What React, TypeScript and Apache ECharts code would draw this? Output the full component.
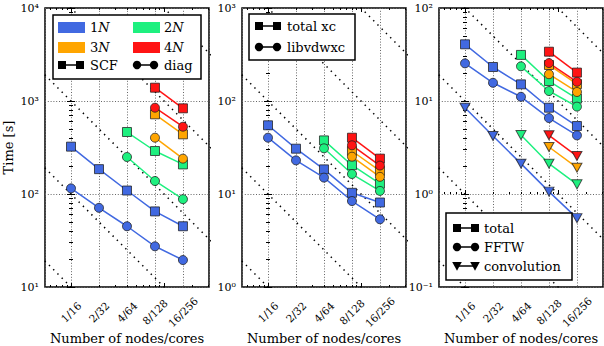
import React, { useEffect, useRef } from 'react';
import * as echarts from 'echarts';

// ---------- data ----------
const categories = ['1/16', '2/32', '4/64', '8/128', '16/256'];
const nodes = [1, 2, 4, 8, 16];
const sizeNames = ['1', '2', '3', '4'];
const sizeColors = ['#4169e1', '#1ef07f', '#ffa500', '#ff1414'];

// panel 1: SCF / diag time [s]
const scf1N = [323, 185, 109, 65, 45];
const scf2N = [null, null, 464, 290, 208];
const scf3N = [null, null, null, 719, 438];
const scf4N = [null, null, null, 1390, 834];
const diag1N = [115, 71, 45, 27.4, 19.5];
const diag2N = [null, null, 250, 138, 88];
const diag3N = [null, null, null, 403, 240];
const diag4N = [null, null, null, 847, 529];

// panel 2: total xc / libvdwxc
const xc1N = [54.8, 30.7, 18.4, 10.3, 8.1];
const xc2N = [null, null, 37.7, 20.4, 12.9];
const xc3N = [null, null, null, 29.0, 17.7];
const xc4N = [null, null, null, 40.3, 24.0];
const vdw1N = [40.3, 23.0, 15.0, 8.4, 5.35];
const vdw2N = [null, null, 31.0, 16.4, 10.8];
const vdw3N = [null, null, null, 25.2, 15.3];
const vdw4N = [null, null, null, 33.4, 20.2];

// panel 3: total / FFTW / convolution
const total1N = [40.7, 23.2, 15.1, 8.47, 5.38];
const total2N = [null, null, 31.3, 16.4, 10.6];
const total3N = [null, null, null, 24.4, 15.2];
const total4N = [null, null, null, 33.9, 20.2];
const fftw1N = [25.4, 15.7, 11.1, 6.56, 4.27];
const fftw2N = [null, null, 23.6, 12.8, 8.7];
const fftw3N = [null, null, null, 19.4, 12.5];
const fftw4N = [null, null, null, 25.6, 16.1];
const conv1N = [8.47, 4.2, 2.12, 1.06, 0.55];
const conv2N = [null, null, 4.3, 2.12, 1.27];
const conv3N = [null, null, null, 3.2, 1.92];
const conv4N = [null, null, null, 4.28, 2.56];

// ideal-scaling reference lines T = C / nodes
const idealC1 = [10, 100, 1000, 10000, 100000];
const idealC2 = [1, 10, 100, 1000, 10000];
const idealC3 = [0.1, 1, 10, 100, 1000];

// y ranges
const yRange1 = [10, 10000];
const yRange2 = [1, 1000];
const yRange3 = [0.1, 100];

// ---------- layout / style ----------
const FONT = "'DejaVu Serif', 'Liberation Serif', serif";
const GRID_TOP = 8;
const GRID_W = 164;
const GRID_H = 279;
const X_MIN = 0.525;
const X_MAX = 30.5;
const GRID_LINE = { color: '#666', width: 1, type: [1, 1.8] as any };

type Metric = { label: string; symbol: string; values: (number | null)[][] };
type Panel = { left: number; yRange: number[]; idealC: number[]; metrics: Metric[] };

const panels: Panel[] = [
  {
    left: 45, yRange: yRange1, idealC: idealC1,
    metrics: [
      { label: 'SCF', symbol: 'rect', values: [scf1N, scf2N, scf3N, scf4N] },
      { label: 'diag', symbol: 'circle', values: [diag1N, diag2N, diag3N, diag4N] },
    ],
  },
  {
    left: 242, yRange: yRange2, idealC: idealC2,
    metrics: [
      { label: 'total xc', symbol: 'rect', values: [xc1N, xc2N, xc3N, xc4N] },
      { label: 'libvdwxc', symbol: 'circle', values: [vdw1N, vdw2N, vdw3N, vdw4N] },
    ],
  },
  {
    left: 439, yRange: yRange3, idealC: idealC3,
    metrics: [
      { label: 'total', symbol: 'rect', values: [total1N, total2N, total3N, total4N] },
      { label: 'FFTW', symbol: 'circle', values: [fftw1N, fftw2N, fftw3N, fftw4N] },
      { label: 'convolution', symbol: 'triangle', values: [conv1N, conv2N, conv3N, conv4N] },
    ],
  },
];

const SUP: Record<string, string> = { '-': '⁻', '0': '⁰', '1': '¹', '2': '²', '3': '³', '4': '⁴', '5': '⁵' };
const toSup = (n: number) => String(n).split('').map((c) => SUP[c] || c).join('');

const pairs = (vals: (number | null)[]) =>
  nodes.map((n, i) => (vals[i] == null ? null : [n, vals[i]])).filter((p) => p !== null);

const auxAxis = (gridIndex: number, position: string, min: number, max: number, values: number[], length: number) => ({
  type: 'value', gridIndex, position, min, max, silent: true,
  axisLine: { show: false },
  axisLabel: { show: false },
  splitLine: { show: false },
  axisTick: { show: true, inside: true, length, customValues: values, lineStyle: { color: '#000', width: 1 } },
});

function legendGraphics(): any[] {
  const els: any[] = [];
  const box = (x: number, y: number, w: number, h: number) =>
    els.push({ type: 'rect', z: 100, shape: { x, y, width: w, height: h }, style: { fill: '#fff', stroke: '#000', lineWidth: 1.5 } });
  const txt = (x: number, y: number, text: string, rich?: boolean) =>
    els.push({
      type: 'text', z: 101, x, y,
      style: {
        text, fontSize: 13, fontFamily: FONT, fill: '#000', align: 'left', verticalAlign: 'middle',
        rich: rich ? { i: { fontStyle: 'italic', fontSize: 13, fontFamily: FONT, fill: '#000' } } : undefined,
      },
    });
  const mark = (kind: string, cx: number, cy: number) => {
    if (kind === 'rect') els.push({ type: 'rect', z: 102, shape: { x: cx - 4, y: cy - 4, width: 8, height: 8 }, style: { fill: '#000' } });
    else if (kind === 'circle') els.push({ type: 'circle', z: 102, shape: { cx, cy, r: 4.2 }, style: { fill: '#000' } });
    else els.push({ type: 'polygon', z: 102, shape: { points: [[cx - 4.8, cy - 4], [cx + 4.8, cy - 4], [cx, cy + 4.8]] }, style: { fill: '#000' } });
  };
  const entry = (kind: string, x1: number, x2: number, y: number, tx: number, label: string) => {
    els.push({ type: 'line', z: 101, shape: { x1, y1: y, x2, y2: y }, style: { stroke: '#000', lineWidth: 1.5 } });
    mark(kind, x1, y);
    mark(kind, x2, y);
    txt(tx, y, label);
  };
  const patch = (x: number, y: number, color: string, size: string, tx: number) => {
    els.push({ type: 'rect', z: 101, shape: { x, y, width: 27, height: 11 }, style: { fill: color } });
    txt(tx, y + 5.5, size + '{i|N}', true);
  };

  box(53, 15, 148, 64);
  patch(58, 22, sizeColors[0], sizeNames[0], 90);
  patch(133, 22, sizeColors[1], sizeNames[1], 164);
  patch(58, 42, sizeColors[2], sizeNames[2], 90);
  patch(133, 42, sizeColors[3], sizeNames[3], 164);
  entry(panels[0].metrics[0].symbol, 62, 80, 65, 90, panels[0].metrics[0].label);
  entry(panels[0].metrics[1].symbol, 137, 154, 65, 164, panels[0].metrics[1].label);

  box(249, 14, 106, 46);
  entry(panels[1].metrics[0].symbol, 259, 277, 26, 287, panels[1].metrics[0].label);
  entry(panels[1].metrics[1].symbol, 259, 277, 47, 287, panels[1].metrics[1].label);

  box(446, 213, 126, 67);
  entry(panels[2].metrics[0].symbol, 457, 475, 228, 484, panels[2].metrics[0].label);
  entry(panels[2].metrics[1].symbol, 457, 475, 247, 484, panels[2].metrics[1].label);
  entry(panels[2].metrics[2].symbol, 457, 475, 266, 484, panels[2].metrics[2].label);
  return els;
}

function buildOption() {
  const grid: any[] = [];
  const xAxis: any[] = [];
  const yAxis: any[] = [];
  const series: any[] = [];

  const lx0 = Math.log10(X_MIN);
  const lx1 = Math.log10(X_MAX);
  const xMinorVals = [0.6, 0.7, 0.8, 0.9, 2, 3, 4, 5, 6, 7, 8, 9, 20, 30].map(Math.log10);
  const xMajorVals = [1, 10].map(Math.log10);

  panels.forEach((p, i) => {
    grid.push({
      left: p.left, top: GRID_TOP, width: GRID_W, height: GRID_H,
      show: true, borderColor: '#000', borderWidth: 1.5, backgroundColor: 'transparent',
      outerBoundsMode: 'none',
    });

    xAxis.push({
      type: 'log', logBase: 2, gridIndex: i, min: X_MIN, max: X_MAX, position: 'bottom',
      axisLine: { show: false },
      axisTick: { show: false },
      axisLabel: {
        rotate: 45, align: 'center', verticalAlign: 'middle', margin: 25,
        fontSize: 10.5, fontFamily: FONT, color: '#000',
        formatter: (v: number) => {
          const k = nodes.findIndex((n) => Math.abs(n - v) < 1e-6);
          return k >= 0 ? categories[k] : '';
        },
      },
      splitLine: { show: true, lineStyle: GRID_LINE },
      name: 'Number of nodes/cores', nameLocation: 'middle', nameGap: 45, nameMoveOverlap: false,
      nameTextStyle: { fontSize: 13, fontFamily: FONT, color: '#000' },
    });
    xAxis.push(auxAxis(i, 'bottom', lx0, lx1, xMinorVals, 2));
    xAxis.push(auxAxis(i, 'bottom', lx0, lx1, xMajorVals, 4));
    xAxis.push(auxAxis(i, 'top', lx0, lx1, xMinorVals, 2));
    xAxis.push(auxAxis(i, 'top', lx0, lx1, xMajorVals, 4));

    const e0 = Math.round(Math.log10(p.yRange[0]));
    const e1 = Math.round(Math.log10(p.yRange[1]));
    const yMinor: number[] = [];
    const yMajor: number[] = [];
    for (let e = e0; e <= e1; e++) {
      yMajor.push(e);
      if (e < e1) for (let k = 2; k <= 9; k++) yMinor.push(e + Math.log10(k));
    }
    yAxis.push({
      type: 'log', logBase: 10, gridIndex: i, min: p.yRange[0], max: p.yRange[1], position: 'left',
      axisLine: { show: false },
      axisTick: { show: true, inside: true, length: 4, lineStyle: { color: '#000', width: 1 } },
      axisLabel: {
        margin: 6, fontSize: 11, fontFamily: FONT, color: '#000',
        formatter: (v: number) => '10' + toSup(Math.round(Math.log10(v))),
      },
      splitLine: { show: true, lineStyle: GRID_LINE },
      ...(i === 0
        ? {
            name: 'Time [s]', nameLocation: 'middle', nameRotate: 90, nameGap: 30,
            nameTextStyle: { fontSize: 13, fontFamily: FONT, color: '#000' },
          }
        : {}),
    });
    yAxis.push(auxAxis(i, 'left', e0, e1, yMinor, 2));
    yAxis.push(auxAxis(i, 'right', e0, e1, yMajor, 4));
    yAxis.push(auxAxis(i, 'right', e0, e1, yMinor, 2));

    const xi = i * 5;
    const yi = i * 4;

    p.idealC.forEach((c) => {
      series.push({
        type: 'line', xAxisIndex: xi, yAxisIndex: yi, silent: true, z: 1,
        symbol: 'none', clip: true,
        data: [[0.25, c / 0.25], [64, c / 64]],
        lineStyle: { color: '#000', width: 1.5, type: [1.4, 4.6], cap: 'butt' },
      });
    });

    for (let s = 0; s < 4; s++) {
      p.metrics.forEach((m) => {
        const tri = m.symbol === 'triangle';
        series.push({
          type: 'line', xAxisIndex: xi, yAxisIndex: yi, silent: true, z: 3,
          name: `${m.label} ${sizeNames[s]}N`,
          data: pairs(m.values[s]),
          symbol: m.symbol,
          symbolSize: tri ? [10, 9] : 9,
          symbolRotate: tri ? 180 : 0,
          showAllSymbol: true,
          itemStyle: { color: sizeColors[s], borderColor: 'rgba(30,30,30,0.75)', borderWidth: 1 },
          lineStyle: { color: sizeColors[s], width: 1.5 },
        });
      });
    }
  });

  return {
    animation: false,
    backgroundColor: '#fff',
    textStyle: { fontFamily: FONT },
    grid, xAxis, yAxis, series,
    graphic: legendGraphics(),
  };
}

export default function App() {
  const ref = useRef<HTMLDivElement>(null);
  useEffect(() => {
    const chart = echarts.init(ref.current!, null, { renderer: 'svg' });
    chart.setOption(buildOption() as any);
    return () => chart.dispose();
  }, []);
  return <div ref={ref} style={{ position: 'absolute', left: 0, top: 0, width: 604, height: 346 }} />;
}
